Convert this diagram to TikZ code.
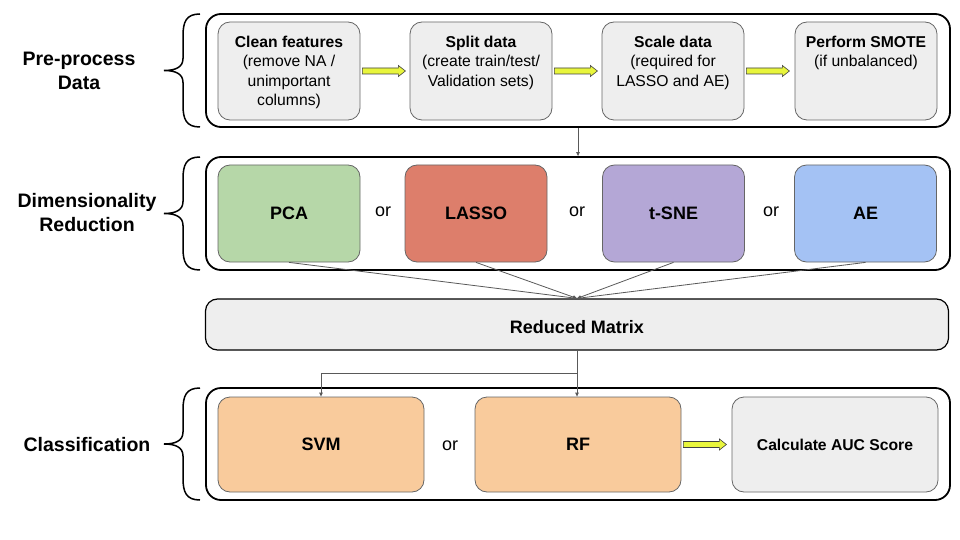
\documentclass[tikz,border=0pt]{standalone}
\usepackage{fontspec}
\setmainfont{Liberation Sans}
\usetikzlibrary{arrows.meta,calc}
\definecolor{boxgray}{HTML}{EEEEEE}
\definecolor{edgegray}{HTML}{666666}
\definecolor{linegray}{HTML}{595959}
\definecolor{pcagreen}{HTML}{B6D7A8}
\definecolor{lassored}{HTML}{DD7E6B}
\definecolor{tsnepurple}{HTML}{B4A7D6}
\definecolor{aeblue}{HTML}{A4C2F4}
\definecolor{clsorange}{HTML}{F9CB9C}
\definecolor{arrowyellow}{HTML}{E8F53C}
\tikzset{
  outerbox/.style={draw=black, line width=1.8pt, rounded corners=15pt, minimum width=744pt, minimum height=113pt, inner sep=0pt},
  innerbox/.style={draw=edgegray, line width=0.8pt, rounded corners=12pt, inner sep=0pt, align=center},
  topbox/.style={innerbox, fill=boxgray, minimum width=142pt, minimum height=98pt},
  midbox/.style={innerbox, minimum width=142pt, minimum height=97pt, font=\bfseries\fontsize{18}{22}\selectfont},
  botbox/.style={innerbox, minimum width=206pt, minimum height=95pt},
  boxtext/.style={inner sep=0pt, align=center, anchor=north, font=\fontsize{15.7}{19.5}\selectfont},
  ortext/.style={inner sep=0pt, font=\fontsize{18}{22}\selectfont},
  sidelabel/.style={inner sep=0pt, align=center, font=\bfseries\fontsize{19.5}{24}\selectfont},
  bracestyle/.style={draw=black, line width=1.5pt},
  conn/.style={draw=linegray, line width=0.8pt, -{Triangle[length=4pt,width=3.5pt]}},
  fatarr/.style={draw=black!75, line width=0.6pt, fill=arrowyellow},
}
\newcommand\yellowarrow[1]{%
  \draw[fatarr] ($(#1.east)+(2,-3)$) -- ++(36,0) -- ++(0,-2.5) -- ++(7,5.5) -- ++(-7,5.5) -- ++(0,-2.5) -- ++(-36,0) -- cycle;}
\newcommand\sidebrace[2]{%
  \draw[bracestyle] (200,#1) .. controls (186,#1) and (183,#1+8) .. (183,#1+22)
    -- (183,{(#1+#2)/2-12}) .. controls (183,{(#1+#2)/2-3}) and (175,{(#1+#2)/2}) .. (164,{(#1+#2)/2})
    .. controls (175,{(#1+#2)/2}) and (183,{(#1+#2)/2+3}) .. (183,{(#1+#2)/2+12})
    -- (183,#2-22) .. controls (183,#2-8) and (186,#2) .. (200,#2);}
\begin{document}
\begin{tikzpicture}[x=1pt,y=-1pt]
\useasboundingbox (0,0) rectangle (960,540);

% outer boxes
\node[outerbox] (pre) at (578,70.5) {};
\node[outerbox] (dim) at (578,213.5) {};
\node[outerbox, minimum height=112pt] (cls) at (578,444) {};

% braces
\sidebrace{14}{127}
\sidebrace{157}{270}
\sidebrace{388}{500}

% side labels
\node[sidelabel] (lpre) at (79,71) {Pre-process\\Data};
\node[sidelabel] (ldim) at (87,213) {Dimensionality\\Reduction};
\node[sidelabel] (lcls) at (87,445) {Classification};

% pre-process boxes
\node[topbox] (clean) at (289,71) {};
\node[topbox] (split) at (481,71) {};
\node[topbox] (scale) at (673,71) {};
\node[topbox] (smote) at (866,71) {};
\node[boxtext] (tclean) at ($(clean.north)+(0,14)$) {\textbf{Clean features}\\(remove NA /\\unimportant\\columns)};
\node[boxtext] (tsplit) at ($(split.north)+(0,14)$) {\textbf{Split data}\\(create train/test/\\Validation sets)};
\node[boxtext] (tscale) at ($(scale.north)+(0,14)$) {\textbf{Scale data}\\(required for\\LASSO and AE)};
\node[boxtext] (tsmote) at ($(smote.north)+(0,14)$) {\textbf{Perform SMOTE}\\(if unbalanced)};
\yellowarrow{clean}
\yellowarrow{split}
\yellowarrow{scale}

% dimensionality reduction boxes
\node[midbox, fill=pcagreen] (pca) at (289,213.5) {PCA};
\node[midbox, fill=lassored] (lasso) at (476,213.5) {LASSO};
\node[midbox, fill=tsnepurple] (tsne) at (673.5,213.5) {t-SNE};
\node[midbox, fill=aeblue] (ae) at (865.5,213.5) {AE};
\node[ortext] (or1) at (383,212) {or};
\node[ortext] (or2) at (577,212) {or};
\node[ortext] (or3) at (771,212) {or};

% reduced matrix
\node[innerbox, draw=black, line width=1.2pt, fill=boxgray, minimum width=743pt, minimum height=51pt] (rm) at (577,324.5) {};
\node[inner sep=0pt, font=\bfseries\fontsize{18}{21}\selectfont] (rmtext) at ($(rm.center)+(0,2.5)$) {Reduced Matrix};

% classification boxes
\node[botbox, fill=clsorange, font=\bfseries\fontsize{18}{22}\selectfont] (svm) at (321,444.5) {SVM};
\node[botbox, fill=clsorange, font=\bfseries\fontsize{18}{22}\selectfont] (rf) at (578,444.5) {RF};
\node[botbox, fill=boxgray, font=\bfseries\fontsize{15.7}{19}\selectfont] (auc) at (835,444.5) {Calculate AUC Score};
\node[ortext] (or4) at (450,446) {or};
\yellowarrow{rf}

% connectors
\draw[conn] (pre.south) -- (dim.north);
\draw[conn] (pca.south) -- (rm.north);
\draw[conn] (lasso.south) -- (rm.north);
\draw[conn] (tsne.south) -- (rm.north);
\draw[conn] (ae.south) -- (rm.north);
\draw[conn] (rm.south) -- (rm.south |- rf.north);
\draw[conn] (rm.south) -- ++(0,23) -| (svm.north);
\end{tikzpicture}
\end{document}
